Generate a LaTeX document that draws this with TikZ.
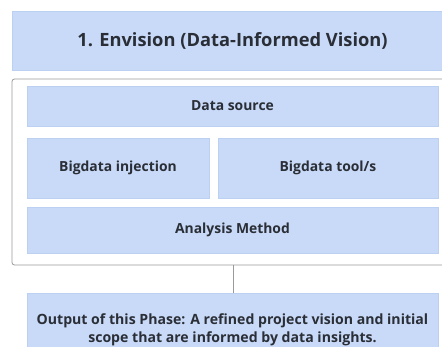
\documentclass[tikz,border=0pt]{standalone}
\usepackage{fontspec}
\setmainfont{Open Sans}
\definecolor{panel}{HTML}{C9DAF8}
\definecolor{panelline}{HTML}{BCD0F2}
\definecolor{ink}{HTML}{2A2E36}
\definecolor{frameline}{HTML}{9A9A9A}
\begin{document}
\begin{tikzpicture}[x=1pt,y=-1pt,
  box/.style={fill=panel,draw=panelline,line width=0.6pt,text=ink,
    font=\bfseries\fontsize{13.9}{16}\selectfont,align=center,inner sep=0pt},
  connector/.style={draw=frameline,line width=1pt}]
\useasboundingbox (0,0) rectangle (442,346);
\fill[white] (0,0) rectangle (442,346);
% title band
\node[box,minimum width=441,minimum height=59,
  font=\bfseries\fontsize{18.3}{22}\selectfont] (title) at (232.5,41)
  {1. Envision (Data-Informed Vision)};
% grouping frame
\draw[draw=frameline,line width=0.8pt,rounded corners=2.5pt]
  (12,79) rectangle (470,265);
\node[box,minimum width=411,minimum height=40] (source) at (232.5,106) {Data source};
\node[box,minimum width=182,minimum height=60] (inject) at (118,168) {Bigdata injection};
\node[box,minimum width=220,minimum height=60] (tools) at (328,168) {Bigdata tool/s};
\node[box,minimum width=411,minimum height=46] (method) at (232.5,230) {Analysis Method};
\coordinate (frameBottom) at (233,265);
% phase output
\node[box,minimum width=411,minimum height=74,
  font=\bfseries\fontsize{14.1}{18.5}\selectfont] (output) at (232.5,330)
  {Output of this Phase: A refined project vision and initial\\scope that are informed by data insights.};
\draw[connector] (frameBottom) -- (frameBottom |- output.north);
\end{tikzpicture}
\end{document}
